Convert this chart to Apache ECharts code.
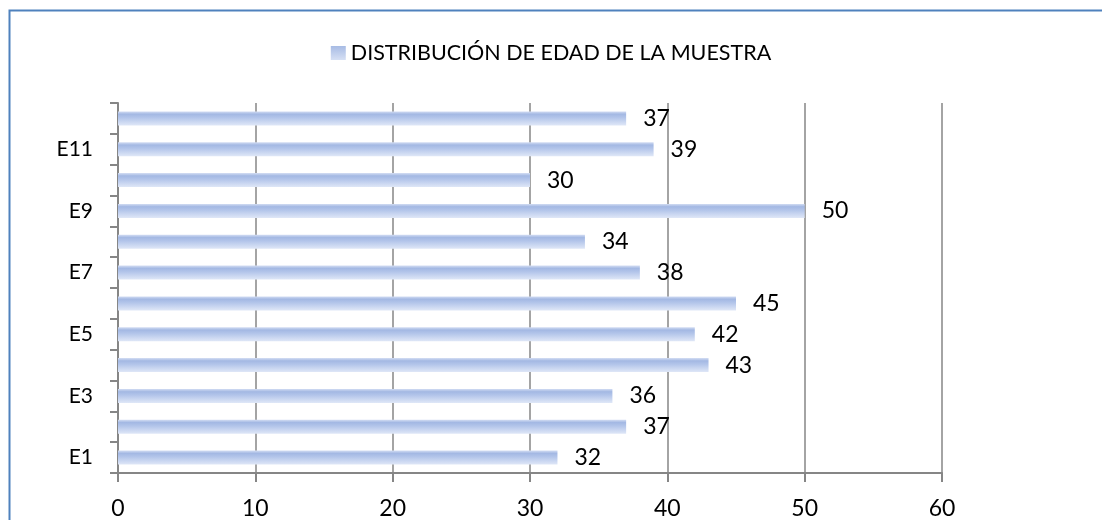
<!DOCTYPE html>
<html>
<head>
<meta charset="utf-8">
<script src="https://cdn.jsdelivr.net/npm/echarts@6/dist/echarts.min.js"></script>
<style>
html,body{margin:0;padding:0;background:#fff;}
#c{width:1102px;height:520px;}
</style>
</head>
<body>
<div id="c"></div>
<script>
const categories = ['E1','E2','E3','E4','E5','E6','E7','E8','E9','E10','E11','E12'];
const values = [32, 37, 36, 43, 42, 45, 38, 34, 50, 30, 39, 37];
const xTicks = [0, 10, 20, 30, 40, 50, 60];
const seriesName = 'DISTRIBUCIÓN DE EDAD DE LA MUESTRA';

const FONT = 'Lato';
const gray = '#868686';
const barGrad = {
  type: 'linear', x: 0, y: 0, x2: 0, y2: 1,
  colorStops: [
    {offset: 0, color: '#d3ddf3'},
    {offset: 0.2, color: '#a3b8e3'},
    {offset: 0.45, color: '#b3c5ea'},
    {offset: 1, color: '#dfe7f7'}
  ]
};

const chart = echarts.init(document.getElementById('c'), null, {renderer: 'canvas'});
chart.setOption({
  animation: false,
  backgroundColor: '#fff',
  graphic: [{
    type: 'rect',
    shape: {x: 9.5, y: 10.5, width: 1200, height: 600},
    style: {fill: 'none', stroke: '#4f81bd', lineWidth: 2},
    silent: true
  }],
  legend: {
    data: [{name: seriesName, icon: 'rect', itemStyle: {color: {
      type: 'linear', x: 0, y: 0, x2: 0, y2: 1,
      colorStops: [{offset: 0, color: '#a7bbe4'}, {offset: 1, color: '#d6e0f4'}]
    }}}],
    top: 37,
    left: 'center',
    itemWidth: 15,
    itemHeight: 14,
    itemGap: 6,
    textStyle: {fontFamily: FONT, fontSize: 21.5, color: '#000'}
  },
  grid: {left: 118, right: 160, top: 103, bottom: 47, containLabel: false},
  xAxis: {
    type: 'value',
    min: xTicks[0],
    max: xTicks[xTicks.length - 1],
    interval: 10,
    position: 'bottom',
    axisLine: {show: true, lineStyle: {color: gray, width: 2}},
    axisTick: {show: true, length: 9, lineStyle: {color: gray, width: 2}},
    axisLabel: {fontFamily: FONT, fontSize: 23, color: '#000', margin: 24},
    splitLine: {show: true, lineStyle: {color: gray, width: 1.5}}
  },
  yAxis: {
    type: 'category',
    data: categories,
    boundaryGap: true,
    axisLine: {show: true, lineStyle: {color: gray, width: 2}},
    axisTick: {show: true, length: 8, interval: 0, lineStyle: {color: gray, width: 2}},
    axisLabel: {interval: 1, fontFamily: FONT, fontSize: 21, color: '#000', margin: 25},
    splitLine: {show: false}
  },
  series: [{
    name: seriesName,
    type: 'bar',
    data: values,
    barWidth: 14,
    itemStyle: {color: barGrad},
    label: {
      show: true,
      position: 'right',
      distance: 17,
      fontFamily: FONT,
      fontSize: 23,
      color: '#000'
    }
  }]
});
</script>
</body>
</html>
